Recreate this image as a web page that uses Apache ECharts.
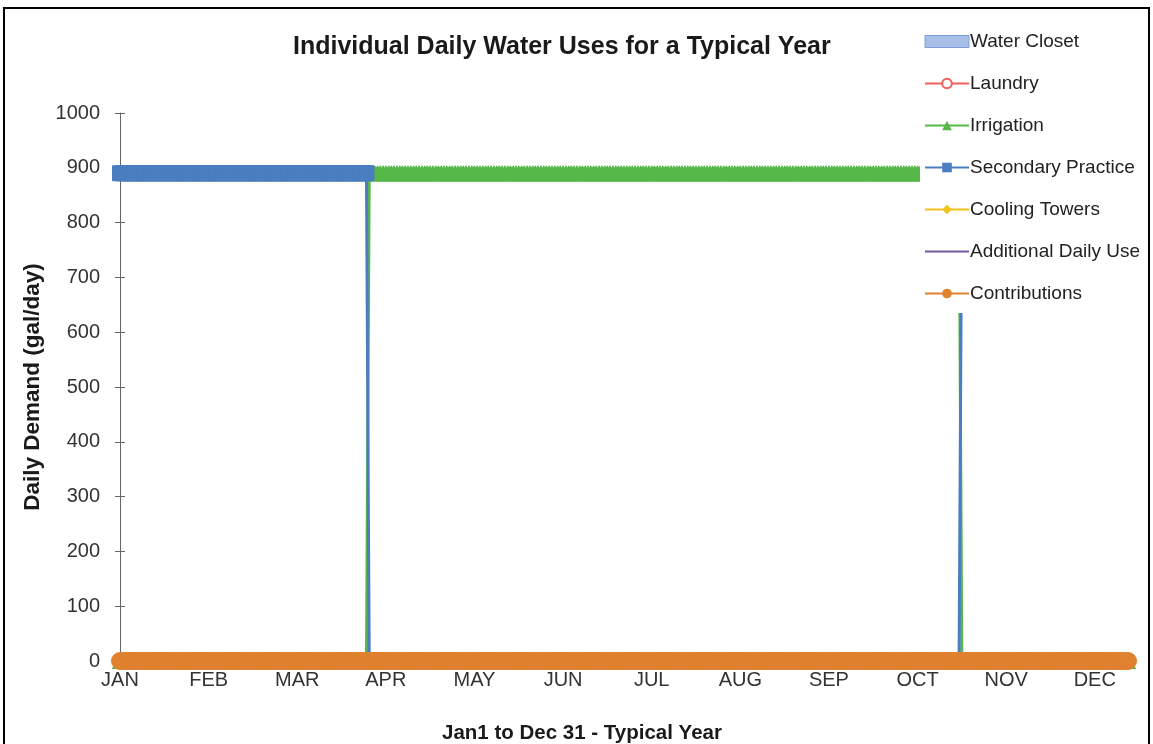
<!DOCTYPE html>
<html>
<head>
<meta charset="utf-8">
<script src="https://cdn.jsdelivr.net/npm/echarts@6/dist/echarts.min.js"></script>
<style>
html,body{margin:0;padding:0;background:#fff;}
#chart{width:1153px;height:744px;}
</style>
</head>
<body>
<div id="chart"></div>
<script>
// ---- data ----
const monthLabels = ['JAN','FEB','MAR','APR','MAY','JUN','JUL','AUG','SEP','OCT','NOV','DEC'];
const dayCount = 365;
const yTicks = [0,100,200,300,400,500,600,700,800,900,1000];
const seriesNames = ['Water Closet','Laundry','Irrigation','Secondary Practice','Cooling Towers','Additional Daily Use','Contributions'];
// runs of constant daily demand: [firstDayIndex, lastDayIndex, gal/day]
const waterClosetRuns = [[0, 364, 0]];
const laundryRuns = [[0, 364, 0]];
const irrigationRuns = [[0, 89, 0], [90, 303, 890], [304, 364, 0]];
const secondaryRuns = [[0, 89, 890], [90, 303, 0], [304, 364, 890]];
const coolingRuns = [[0, 364, 0]];
const additionalRuns = [[0, 364, 0]];
const contributionsRuns = [[0, 364, 0]];

function expand(runs){
  const out = new Array(dayCount).fill(null);
  runs.forEach(r => { for(let d=r[0]; d<=r[1]; d++) out[d] = r[2]; });
  return out;
}
const days = [];
for(let i=0;i<dayCount;i++) days.push(String(i+1));

const chart = echarts.init(document.getElementById('chart'));
const font = 'Liberation Sans, Arial, sans-serif';
const lineBase = (name, data, color, symbol, size, extra) => Object.assign({
  name, type:'line', data, symbol, symbolSize:size, showAllSymbol:true,
  lineStyle:{color, width:3}, itemStyle:{color, borderColor:color},
  animation:false, emphasis:{disabled:true}, silent:true
}, extra||{});

const option = {
  backgroundColor:'#fff',
  animation:false,
  textStyle:{fontFamily:font},
  title:[
    {text:'Individual Daily Water Uses for a Typical Year', left:288, top:30,
     textStyle:{fontSize:25, fontWeight:'bold', color:'#1a1a1a', fontFamily:font}},
    {text:'Jan1 to Dec 31 - Typical Year', left:437, top:718,
     textStyle:{fontSize:20.5, fontWeight:'bold', color:'#1a1a1a', fontFamily:font}}
  ],
  legend:{
    orient:'vertical', left:920, top:26, itemWidth:44, itemHeight:12, itemGap:23,
    backgroundColor:'#fff', padding:[6,30,10,4], z:10,
    textStyle:{fontSize:19, color:'#222', fontFamily:font, padding:[0,0,0,-4]},
    lineStyle:{width:2},
    data:[
      {name:'Water Closet', icon:'rect', itemStyle:{color:'#a8c0e8', borderColor:'#7d9ed8', borderWidth:1}},
      {name:'Laundry'},{name:'Irrigation'},{name:'Secondary Practice'},
      {name:'Cooling Towers'},{name:'Additional Daily Use'},{name:'Contributions'}
    ]
  },
  grid:{left:120, right:25, top:113, bottom:83, containLabel:false},
  xAxis:{
    type:'category', data:days, boundaryGap:false,
    axisLine:{show:true, lineStyle:{color:'#777'}},
    axisTick:{show:false},
    axisLabel:{interval:31, margin:9, fontSize:20, color:'#333', fontFamily:font,
      formatter:(v,i)=>monthLabels[Math.round(i/32)] || ''},
    splitLine:{show:false}
  },
  yAxis:[
    {type:'value', min:yTicks[0], max:yTicks[yTicks.length-1], interval:100,
     name:'Daily Demand (gal/day)', nameLocation:'middle', nameGap:75,
     nameTextStyle:{fontSize:22.5, fontWeight:'bold', color:'#1a1a1a', fontFamily:font},
     axisLine:{show:true, lineStyle:{color:'#666'}},
     axisTick:{show:true, length:5, lineStyle:{color:'#666'}},
     axisLabel:{margin:20, fontSize:20, color:'#333', fontFamily:font, formatter:v=>String(v)},
     splitLine:{show:false}},
    {type:'value', min:0, max:1000, interval:100, position:'left',
     axisLine:{show:false}, axisTick:{show:true, inside:true, length:5, lineStyle:{color:'#666'}},
     axisLabel:{show:false}, splitLine:{show:false}}
  ],
  graphic:[
    {type:'rect', shape:{x:4, y:8, width:1145, height:760}, style:{fill:null, stroke:'#000', lineWidth:2}, silent:true, z:100}
  ],
  series:[
    lineBase('Water Closet', expand(waterClosetRuns), '#7d9ed8', 'none', 0,
      {areaStyle:{color:'#a8c0e8'}, lineStyle:{color:'#7d9ed8', width:1}}),
    lineBase('Laundry', expand(laundryRuns), '#f0605c', 'circle', 8,
      {itemStyle:{color:'#fff', borderColor:'#f0605c', borderWidth:1.5}}),
    lineBase('Irrigation', expand(irrigationRuns), '#55b848', 'triangle', 15),
    lineBase('Secondary Practice', expand(secondaryRuns), '#4a7ec0', 'rect', 15),
    lineBase('Cooling Towers', expand(coolingRuns), '#f5c21b', 'diamond', 10),
    lineBase('Additional Daily Use', expand(additionalRuns), '#7458a0', 'path://M0,0L10,10M10,0L0,10', 10),
    lineBase('Contributions', expand(contributionsRuns), '#e0812f', 'circle', 17)
  ]
};
chart.setOption(option);
</script>
</body>
</html>
